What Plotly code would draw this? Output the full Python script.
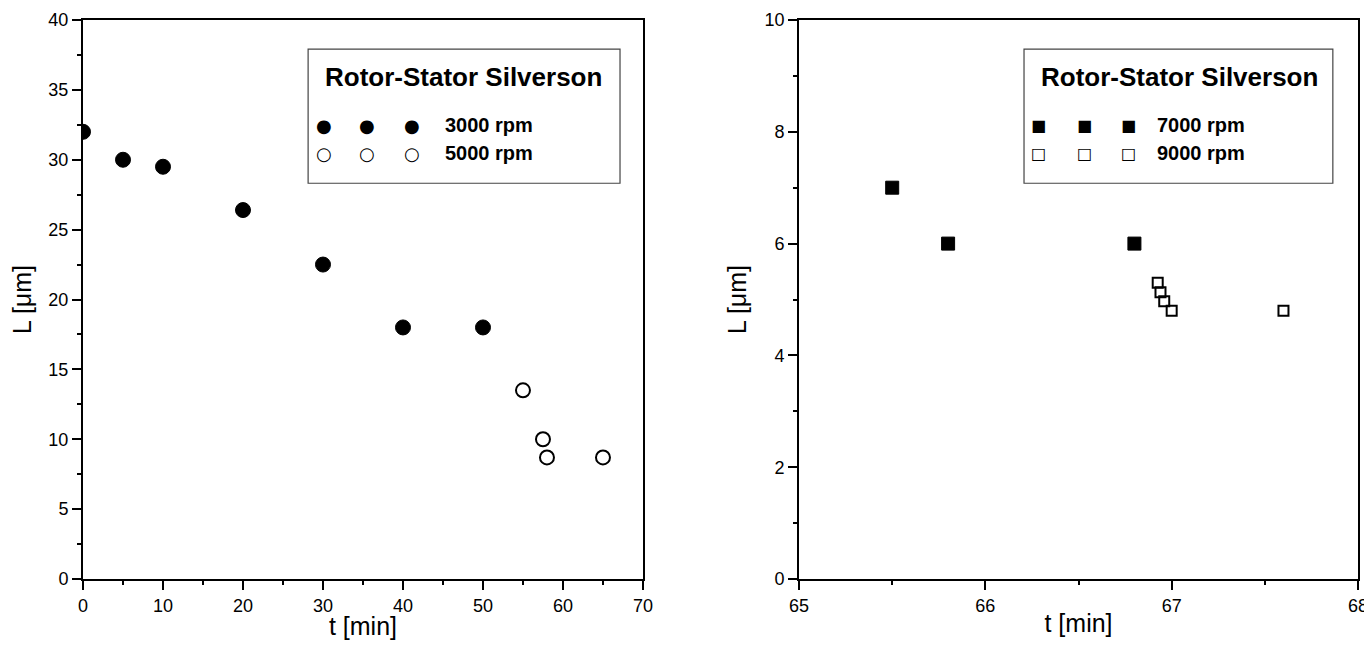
import plotly.graph_objects as go
from plotly.subplots import make_subplots

# Left panel data
t_3000 = [0, 5, 10, 20, 30, 40, 50]
L_3000 = [32, 30, 29.5, 26.4, 22.5, 18, 18]
t_5000 = [55, 57.5, 58, 65]
L_5000 = [13.5, 10, 8.7, 8.7]

# Right panel data
t_7000 = [65.5, 65.8, 66.8]
L_7000 = [7, 6, 6]
t_9000 = [66.925, 66.94, 66.96, 67.0, 67.6]
L_9000 = [5.3, 5.13, 4.97, 4.8, 4.8]

legend_title = "Rotor-Stator Silverson"
labels_left = ["3000 rpm", "5000 rpm"]
labels_right = ["7000 rpm", "9000 rpm"]

FONT = "Liberation Sans, Arial, sans-serif"

fig = make_subplots(rows=1, cols=2, horizontal_spacing=0.1224)
fig.update_xaxes(domain=[0, 0.4392], row=1, col=1)
fig.update_xaxes(domain=[0.5616, 1.0], row=1, col=2)

fig.add_trace(go.Scatter(x=t_3000, y=L_3000, mode="markers", name=labels_left[0],
                         marker=dict(symbol="circle", size=15, color="black",
                                     line=dict(color="black", width=1))), 1, 1)
fig.add_trace(go.Scatter(x=t_5000, y=L_5000, mode="markers", name=labels_left[1],
                         marker=dict(symbol="circle-open", size=14, color="black",
                                     line=dict(color="black", width=2))), 1, 1)
fig.add_trace(go.Scatter(x=t_7000, y=L_7000, mode="markers", name=labels_right[0],
                         marker=dict(symbol="square", size=13, color="black",
                                     line=dict(color="black", width=1))), 1, 2)
fig.add_trace(go.Scatter(x=t_9000, y=L_9000, mode="markers", name=labels_right[1],
                         marker=dict(symbol="square-open", size=10, color="black",
                                     line=dict(color="black", width=2))), 1, 2)

axis_common = dict(showgrid=False, zeroline=False, showline=True, linecolor="black",
                   linewidth=2, mirror=True, ticks="outside", ticklen=9, tickwidth=2,
                   tickcolor="black", automargin=False, ticklabeloverflow="allow",
                   tickfont=dict(family=FONT, size=18, color="black"),
                   title_font=dict(family=FONT, size=25, color="black"))

fig.update_xaxes(**axis_common)
fig.update_yaxes(**axis_common)

minor_style = dict(ticks="outside", ticklen=4, tickwidth=1.5, tickcolor="black")

fig.update_xaxes(range=[0, 70], dtick=10, title_text="t [min]", title_standoff=0,
                 minor=dict(dtick=5, **minor_style), row=1, col=1)
fig.update_yaxes(range=[0, 40], dtick=5, title_text="L [μm]", title_standoff=11,
                 minor=dict(dtick=2.5, **minor_style), row=1, col=1)
fig.update_xaxes(range=[65, 68], dtick=1, title_text="t [min]", title_standoff=0,
                 minor=dict(dtick=0.5, **minor_style), row=1, col=2)
fig.update_yaxes(range=[0, 10], dtick=2, title_text="L [μm]", title_standoff=11,
                 minor=dict(dtick=1, **minor_style), row=1, col=2)


def add_legend_box(xref, x0, x1, mx, tx, labels, glyphs):
    fig.add_shape(type="rect", xref=xref, yref="paper", x0=x0, x1=x1, y0=0.708, y1=0.948,
                  line=dict(color="#444", width=1.2), fillcolor="white", layer="above")
    fig.add_annotation(xref=xref, yref="paper", x=0.68, y=0.898, xanchor="center",
                       yanchor="middle", text="<b>" + legend_title + "</b>", showarrow=False,
                       font=dict(family=FONT, size=26, color="black"))
    ys = [0.812, 0.762]
    for lab, gl, yy in zip(labels, glyphs, ys):
        for xm in mx:
            fig.add_annotation(xref=xref, yref="paper", x=xm, y=yy, xanchor="center",
                               yanchor="middle", text="<b>" + gl[0] + "</b>", showarrow=False,
                               font=dict(family="DejaVu Sans", size=gl[1], color="black"))
        fig.add_annotation(xref=xref, yref="paper", x=tx, y=yy, xanchor="left",
                           yanchor="middle", text="<b>" + lab + "</b>", showarrow=False,
                           font=dict(family=FONT, size=20, color="black"))


add_legend_box("x domain", 0.402, 0.959, [0.430, 0.507, 0.588], 0.643,
               labels_left, [("●", 18), ("○", 18)])
add_legend_box("x2 domain", 0.4025, 0.955, [0.429, 0.510, 0.590], 0.637,
               labels_right, [("■", 16), ("□", 16)])

# the page body adds an 8px margin; size the figure so it fits the window without scrollbars
# and the plot areas land where the reference has them
fig.update_layout(width=1356, height=632, showlegend=False,
                  margin=dict(l=75, r=6, t=12, b=61),
                  plot_bgcolor="white", paper_bgcolor="white",
                  font=dict(family=FONT, color="black"))

fig.write_html("out.html")
